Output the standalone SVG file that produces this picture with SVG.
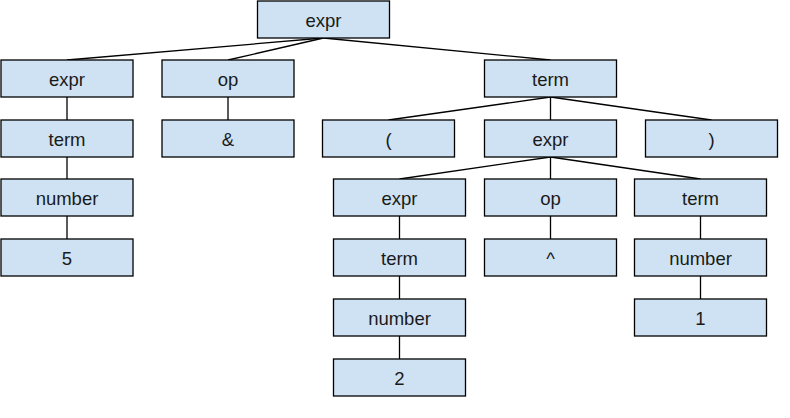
<svg xmlns="http://www.w3.org/2000/svg" width="790" height="418" viewBox="0 0 790 418">
<style>
.n rect{fill:#cfe2f3;stroke:#000;stroke-width:1.3}
.n text{font-family:"Liberation Sans",Arial,sans-serif;font-size:18.5px;fill:#1a1a1a;text-anchor:middle;dominant-baseline:central}
#edges line{stroke:#000;stroke-width:1.3}
</style>
<rect width="790" height="418" fill="#fff"/>
<g id="edges">
<line x1="323.5" y1="38" x2="67" y2="60"/>
<line x1="323.5" y1="38" x2="228" y2="60"/>
<line x1="323.5" y1="38" x2="550.5" y2="60"/>
<line x1="67" y1="97" x2="67" y2="120"/>
<line x1="67" y1="157" x2="67" y2="179"/>
<line x1="67" y1="216" x2="67" y2="239"/>
<line x1="228" y1="97" x2="228" y2="120"/>
<line x1="550.5" y1="97" x2="388.5" y2="120"/>
<line x1="550.5" y1="97" x2="550.5" y2="120"/>
<line x1="550.5" y1="97" x2="711.5" y2="120"/>
<line x1="550.5" y1="157" x2="399.5" y2="179"/>
<line x1="550.5" y1="157" x2="550.5" y2="179"/>
<line x1="550.5" y1="157" x2="700.5" y2="179"/>
<line x1="399.5" y1="216" x2="399.5" y2="239"/>
<line x1="399.5" y1="276" x2="399.5" y2="299"/>
<line x1="399.5" y1="336" x2="399.5" y2="359"/>
<line x1="550.5" y1="216" x2="550.5" y2="239"/>
<line x1="700.5" y1="216" x2="700.5" y2="239"/>
<line x1="700.5" y1="276" x2="700.5" y2="299"/>
</g>
<g id="root" class="n"><rect x="257.5" y="1" width="132" height="37"/><text x="323.5" y="20">expr</text></g>
<g id="expr1" class="n"><rect x="1" y="60" width="132" height="37"/><text x="67" y="79">expr</text></g>
<g id="op1" class="n"><rect x="162" y="60" width="132" height="37"/><text x="228" y="79">op</text></g>
<g id="term1" class="n"><rect x="484.5" y="60" width="132" height="37"/><text x="550.5" y="79">term</text></g>
<g id="term2" class="n"><rect x="1" y="120" width="132" height="37"/><text x="67" y="139">term</text></g>
<g id="amp" class="n"><rect x="162" y="120" width="132" height="37"/><text x="228" y="139">&amp;</text></g>
<g id="lparen" class="n"><rect x="322.5" y="120" width="132" height="37"/><text x="388.5" y="139">(</text></g>
<g id="expr2" class="n"><rect x="484.5" y="120" width="132" height="37"/><text x="550.5" y="139">expr</text></g>
<g id="rparen" class="n"><rect x="645.5" y="120" width="132" height="37"/><text x="711.5" y="139">)</text></g>
<g id="number1" class="n"><rect x="1" y="179" width="132" height="37"/><text x="67" y="198">number</text></g>
<g id="expr3" class="n"><rect x="333.5" y="179" width="132" height="37"/><text x="399.5" y="198">expr</text></g>
<g id="op2" class="n"><rect x="484.5" y="179" width="132" height="37"/><text x="550.5" y="198">op</text></g>
<g id="term3" class="n"><rect x="634.5" y="179" width="132" height="37"/><text x="700.5" y="198">term</text></g>
<g id="five" class="n"><rect x="1" y="239" width="132" height="37"/><text x="67" y="258">5</text></g>
<g id="term4" class="n"><rect x="333.5" y="239" width="132" height="37"/><text x="399.5" y="258">term</text></g>
<g id="caret" class="n"><rect x="484.5" y="239" width="132" height="37"/><text x="550.5" y="258">^</text></g>
<g id="number2" class="n"><rect x="634.5" y="239" width="132" height="37"/><text x="700.5" y="258">number</text></g>
<g id="number3" class="n"><rect x="333.5" y="299" width="132" height="37"/><text x="399.5" y="318">number</text></g>
<g id="one" class="n"><rect x="634.5" y="299" width="132" height="37"/><text x="700.5" y="318">1</text></g>
<g id="two" class="n"><rect x="333.5" y="359" width="132" height="37"/><text x="399.5" y="378">2</text></g>
</svg>
